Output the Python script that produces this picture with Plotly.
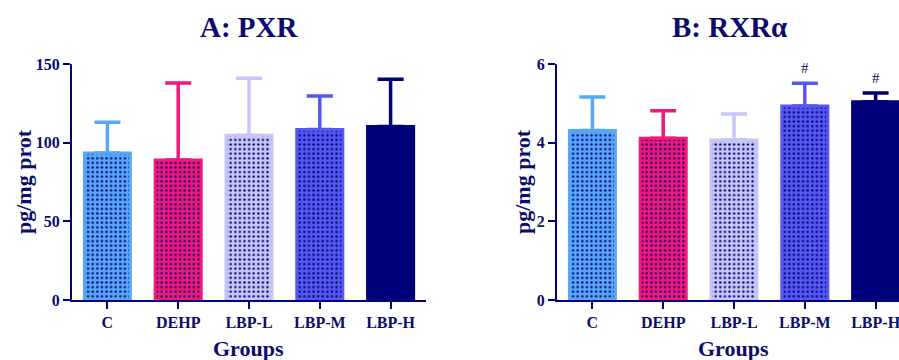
import plotly.graph_objects as go

groups = ["C", "DEHP", "LBP-L", "LBP-M", "LBP-H"]

pxr_mean = [93.4, 89.0, 104.7, 108.3, 110.2]
pxr_sd = [19.6, 49.0, 36.3, 21.4, 30.1]

rxr_mean = [4.31, 4.11, 4.07, 4.93, 5.04]
rxr_sd = [0.85, 0.70, 0.66, 0.58, 0.22]
rxr_marks = ["", "", "", "#", "#"]

bar_colors = ["#58a6f6", "#f0197a", "#c6c6f8", "#5656f0", "#00007a"]
bar_patterns = [".", ".", ".", ".", ""]

NAVY = "#00007a"
TEXT = "#0c0c6c"
SERIF = "Liberation Serif"

fig = go.Figure()


def add_panel(means, sds, xa, ya):
    for g, m, s, c, p in zip(groups, means, sds, bar_colors, bar_patterns):
        fig.add_trace(go.Bar(
            x=[g], y=[m], xaxis=xa, yaxis=ya, width=0.65,
            marker=dict(
                color=c,
                line=dict(color=c, width=3),
                pattern=dict(shape=p, fgcolor=NAVY, bgcolor=c, size=4.6, solidity=0.2),
            ),
            error_y=dict(type="data", symmetric=False, array=[s], arrayminus=[0],
                         color=c, thickness=3.5, width=13),
            showlegend=False,
        ))


add_panel(pxr_mean, pxr_sd, "x", "y")
add_panel(rxr_mean, rxr_sd, "x2", "y2")

W, H = 899, 360
ydom = [(H - 300) / H, (H - 64) / H]

axis_common = dict(
    showline=True, linecolor=NAVY, linewidth=2,
    ticks="outside", ticklen=7, tickwidth=2, tickcolor=NAVY,
    showgrid=False, zeroline=False, automargin=False,
    tickfont=dict(family=SERIF, size=16, color=TEXT, weight="bold"),
)

fig.update_layout(
    template="none",
    width=W, height=H,
    margin=dict(l=0, r=0, t=0, b=0, autoexpand=False),
    paper_bgcolor="white", plot_bgcolor="white",
    barmode="overlay",
    xaxis=dict(domain=[72 / W, 426 / W], range=[-0.5, 4.5], anchor="y",
               categoryorder="array", categoryarray=groups, **axis_common),
    yaxis=dict(domain=ydom, range=[0, 150], dtick=50, anchor="x", **axis_common),
    xaxis2=dict(domain=[557 / W, 1.0], range=[-0.5, 4.33], anchor="y2",
                categoryorder="array", categoryarray=groups, **axis_common),
    yaxis2=dict(domain=ydom, range=[0, 6], dtick=2, anchor="x2", **axis_common),
)

annotations = []


def paper_text(text, x, y, size, angle=0):
    annotations.append(dict(
        text=text, x=x / W, y=(H - y) / H, xref="paper", yref="paper",
        xanchor="center", yanchor="middle", showarrow=False, textangle=angle,
        font=dict(family=SERIF, size=size, color=TEXT, weight="bold"),
    ))


paper_text("A: PXR", 249, 27, 29)
paper_text("B: RXRα", 729, 27, 29)
paper_text("Groups", 248, 348, 22)
paper_text("Groups", 733, 348, 22)
paper_text("pg/mg prot", 23, 182, 22, angle=-90)
paper_text("pg/mg prot", 522, 182, 22, angle=-90)

for g, m, s, mark in zip(groups, rxr_mean, rxr_sd, rxr_marks):
    if mark:
        annotations.append(dict(
            text=mark, x=g, y=m + s, xref="x2", yref="y2",
            xanchor="center", yanchor="bottom", yshift=5, showarrow=False,
            font=dict(family=SERIF, size=15, color=TEXT),
        ))

fig.update_layout(annotations=annotations)

fig.write_html("out.html")
